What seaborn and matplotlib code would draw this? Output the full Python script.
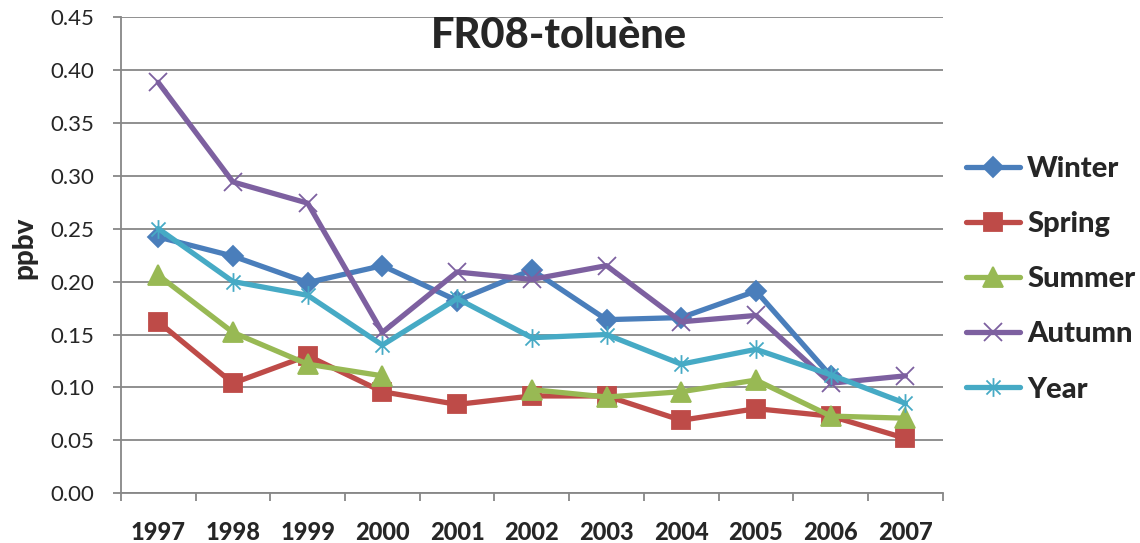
import numpy as np
import pandas as pd
import seaborn as sns
import matplotlib.pyplot as plt
from matplotlib.path import Path
from matplotlib.lines import Line2D
from matplotlib.ticker import FormatStrFormatter

# values (ppbv), NaN = no data
years = [1997, 1998, 1999, 2000, 2001, 2002, 2003, 2004, 2005, 2006, 2007]
winter = [0.242, 0.224, 0.199, 0.215, 0.182, 0.211, 0.164, 0.166, 0.191, 0.111, np.nan]
spring = [0.162, 0.104, 0.130, 0.096, 0.084, 0.092, 0.092, 0.069, 0.080, 0.073, 0.052]
summer = [0.206, 0.152, 0.122, 0.111, np.nan, 0.098, 0.091, 0.096, 0.107, 0.073, 0.071]
autumn = [0.388, 0.294, 0.274, 0.152, 0.209, 0.202, 0.215, 0.162, 0.168, 0.104, 0.111]
year_avg = [0.250, 0.200, 0.187, 0.140, 0.184, 0.147, 0.150, 0.122, 0.136, 0.112, 0.085]

seasons = ["Winter", "Spring", "Summer", "Autumn", "Year"]
colors = ["#4A7EBB", "#BE4B48", "#98B954", "#7D60A0", "#46AAC5"]
yticks = [0.00, 0.05, 0.10, 0.15, 0.20, 0.25, 0.30, 0.35, 0.40, 0.45]
gray = "#878787"

sns.set_style("white")
plt.rcParams['font.family'] = ['Lato', 'DejaVu Sans']

# Excel style asterisk: vertical bar + x
star = Path([(0, -1), (0, 1), (-0.75, -0.75), (0.75, 0.75), (-0.75, 0.75), (0.75, -0.75)],
            [Path.MOVETO, Path.LINETO] * 3)
markers = ["D", "s", "^", "x", star]
msizes = [10, 13.5, 14, 13.5, 13.5]

# long format, a new segment starts after every missing value (keeps gaps)
rows = []
for name, vals in zip(seasons, [winter, spring, summer, autumn, year_avg]):
    seg = 0
    for yr, v in zip(years, vals):
        if np.isnan(v):
            seg += 1
        else:
            rows.append({"season": name, "year": yr, "ppbv": v, "seg": seg})
df = pd.DataFrame(rows)

fig = plt.figure(figsize=(11.4, 5.43), dpi=100)
ax = fig.add_axes([0.106, 0.0913, 0.721, 0.878])

handles = []
for name, c, m, ms in zip(seasons, colors, markers, msizes):
    sub = df[df["season"] == name]
    sns.lineplot(data=sub, x="year", y="ppbv", units="seg", estimator=None,
                 color=c, marker=m, markersize=ms, markeredgecolor=c,
                 markerfacecolor=c, markeredgewidth=1.3, linewidth=3.8,
                 legend=False, ax=ax)
    handles.append(Line2D([], [], color=c, marker=m, markersize=ms, markeredgecolor=c,
                          markerfacecolor=c, markeredgewidth=1.3, linewidth=3.8))

ax.set_xlim(years[0] - 0.5, years[-1] + 0.5)
ax.set_ylim(0, 0.45)
ax.set_xticks(years)
ax.set_xticklabels([str(y) for y in years], fontsize=17, fontweight="black")
ax.set_xticks([y - 0.5 for y in years] + [years[-1] + 0.5], minor=True)
ax.set_yticks(yticks)
ax.yaxis.set_major_formatter(FormatStrFormatter("%.2f"))
for lab in ax.get_yticklabels():
    lab.set_fontsize(16)

ax.tick_params(axis="x", which="major", bottom=True, length=0, pad=19.5)
ax.tick_params(axis="x", which="minor", bottom=True, length=6, width=1.3, color=gray, direction="out")
ax.tick_params(axis="y", left=True, length=6, width=1.3, color=gray, pad=13, direction="out")

ax.grid(axis="y", color=gray, linewidth=1.3)
ax.set_axisbelow(True)
for s in ["top", "right"]:
    ax.spines[s].set_visible(False)
for s in ["left", "bottom"]:
    ax.spines[s].set_color(gray)
    ax.spines[s].set_linewidth(1.3)

ax.set_xlabel("")
ax.set_ylabel("")
fig.text(24 / 1140, 1 - 248 / 543, "ppbv", rotation=90, ha="center", va="center",
         fontsize=20, fontweight="black")
ax.text(0.533, 0.935, "FR08-toluène", transform=ax.transAxes, ha="center", va="baseline",
        fontsize=30, fontweight="black")

fig.legend(handles, seasons, loc="upper left", bbox_to_anchor=(966 / 1140, 1 - 156 / 543),
           frameon=False, prop={"weight": "black", "size": 21}, handlelength=1.85,
           handletextpad=0.25, labelspacing=1.0, borderpad=0, borderaxespad=0)

fig.savefig("out.png", dpi=100)
